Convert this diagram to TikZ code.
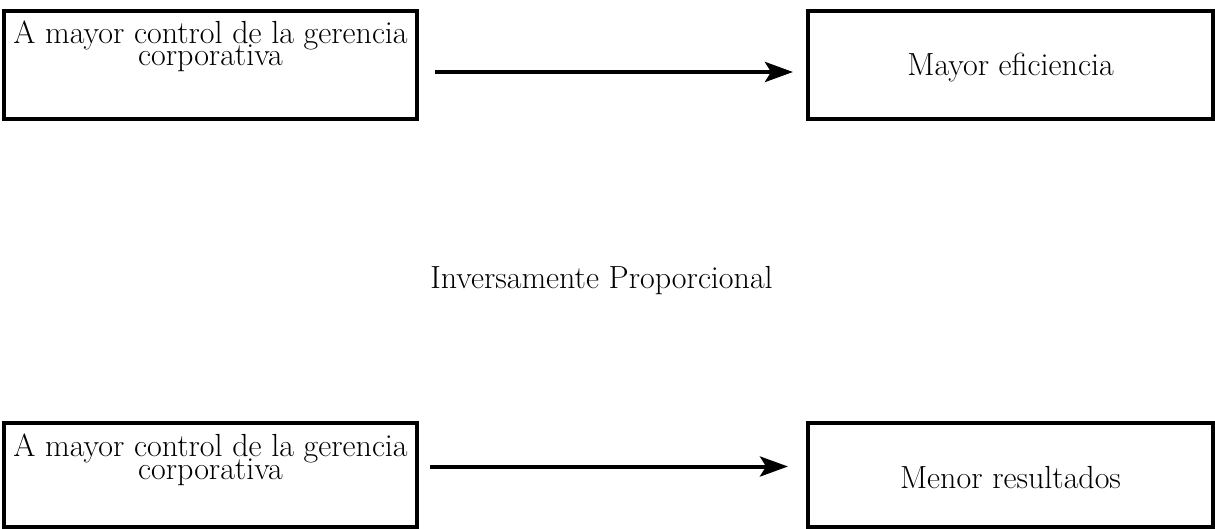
\documentclass[tikz,border=0pt]{standalone}
\usepackage{fontspec}
\usetikzlibrary{arrows.meta}

\tikzset{
  caja/.style={draw,line width=2pt,inner sep=0pt,align=center},
}

\begin{document}
\begin{tikzpicture}[x=0.5pt,y=-0.5pt,->,>={Stealth[length=14pt,width=10pt,inset=3pt]},line width=2pt,
  every node/.style={font={\fontsize{16}{11.3}\selectfont\lineskiplimit=-20pt\relax}}]
  \useasboundingbox (0,0) rectangle (1215,529);
  % fila de arriba
  \node[caja,minimum width=206.5pt,text height=27.5pt,text depth=26.5pt] (ctrl1) at (210.5,65) {A mayor control de la gerencia\\corporativa};
  \node[caja,minimum width=202.5pt,text height=32.5pt,text depth=21.5pt,right of=ctrl1,node distance=400pt] (efic) {Mayor eficiencia};
  % texto del medio
  \node[anchor=base] (rel) at (601.5,289) {Inversamente Proporcional};
  % fila de abajo
  \node[caja,minimum width=206.5pt,text height=28.5pt,text depth=23.5pt] (ctrl2) at (210.5,474.5) {A mayor control de la gerencia\\corporativa};
  \node[caja,minimum width=202.5pt,text height=33pt,text depth=19pt,right of=ctrl2,node distance=400pt] (menor) {Menor resultados};
  \draw[shorten <=8pt,shorten >=6.5pt] ([yshift=-3.5pt]ctrl1.east) -- ([yshift=-3.5pt]efic.west);
  \draw[shorten <=5.5pt,shorten >=9pt] ([yshift=4pt]ctrl2.east) -- ([yshift=4pt]menor.west);
\end{tikzpicture}
\end{document}
